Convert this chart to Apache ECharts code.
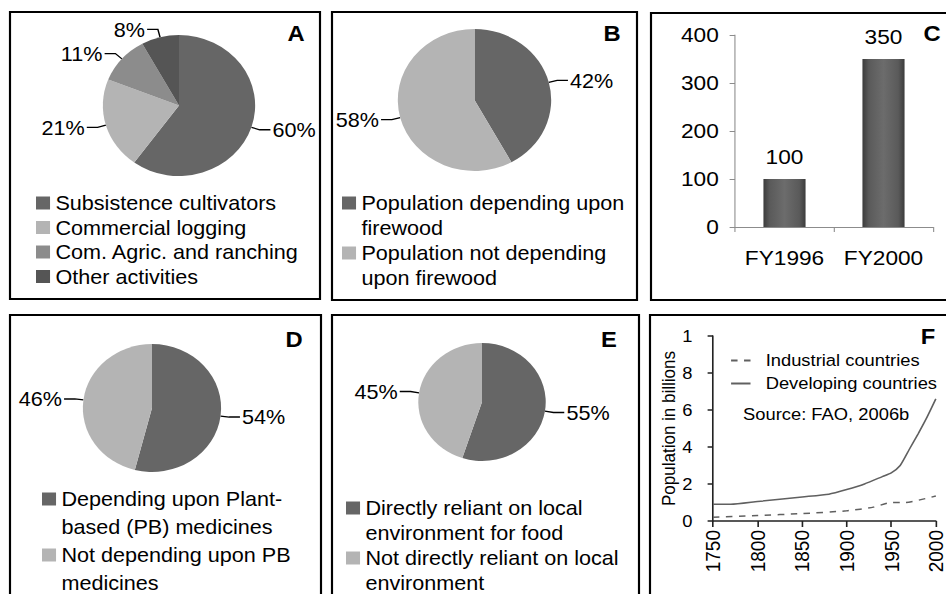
<!DOCTYPE html>
<html>
<head>
<meta charset="utf-8">
<script src="https://cdn.jsdelivr.net/npm/echarts@6.0.0/dist/echarts.min.js"></script>
<style>
  html, body { margin: 0; padding: 0; background: #fff; overflow: hidden; }
  /* the source figure is stretched a little horizontally, so the chart is drawn narrower and scaled */
  #main { width: 876px; height: 594px; transform: scaleX(1.08); transform-origin: 0 0; }
</style>
</head>
<body>
<div id="main"></div>
<script>
const SX = 1.08
const X = px => px / SX

// A - causes of deforestation
const namesA = ['Subsistence cultivators', 'Commercial logging', 'Com. Agric. and ranching', 'Other activities']
const valuesA = [60, 21, 11, 8]
// B - firewood
const namesB = ['Population depending upon firewood', 'Population not depending upon firewood']
const valuesB = [42, 58]
// C - bar
const categoriesC = ['FY1996', 'FY2000']
const valuesC = [100, 350]
// D - plant based medicines
const namesD = ['Depending upon Plant-based (PB) medicines', 'Not depending upon PB medicines']
const valuesD = [54, 46]
// E - food
const namesE = ['Directly reliant on local environment for food', 'Not directly reliant on local environment']
const valuesE = [55, 45]
// F - population in billions
const yearsIndustrial = [1750, 1800, 1850, 1900, 1930, 1950, 1965, 2000]
const industrial = [0.2, 0.3, 0.4, 0.55, 0.75, 1.0, 1.0, 1.35]
const yearsDeveloping = [1750, 1770, 1800, 1850, 1880, 1900, 1920, 1940, 1950, 1960, 1970, 1980, 1990, 2000]
const developing = [0.9, 0.9, 1.05, 1.3, 1.45, 1.7, 2.0, 2.4, 2.6, 3.0, 3.85, 4.7, 5.6, 6.6]
const seriesF = ['Industrial countries', 'Developing countries']

// legend line breaks as in the figure
const wrapped = {
  'Population depending upon firewood': 'Population depending upon\nfirewood',
  'Population not depending upon firewood': 'Population not depending\nupon firewood',
  'Depending upon Plant-based (PB) medicines': 'Depending upon Plant-\nbased (PB) medicines',
  'Not depending upon PB medicines': 'Not depending upon PB\nmedicines',
  'Directly reliant on local environment for food': 'Directly reliant on local\nenvironment for food',
  'Not directly reliant on local environment': 'Not directly reliant on local\nenvironment'
}

const FONT = "'Liberation Sans', Arial, sans-serif"
const dark = '#666666'
const light = '#b4b4b4'

const pieSeries = (names, values, colors, center, radius) => ({
  type: 'pie',
  center: center,
  radius: radius,
  startAngle: 90,
  clockwise: true,
  silent: true,
  avoidLabelOverlap: false,
  labelLayout: { hideOverlap: false },
  data: names.map((n, i) => ({ name: n, value: values[i], itemStyle: { color: colors[i] } })),
  itemStyle: { borderWidth: 0 },
  label: { show: true, position: 'outside', formatter: '{c}%', color: '#000', fontSize: 20, fontFamily: FONT, distanceToLabelLine: 2 },
  labelLine: { show: true, length: 8, length2: 10, lineStyle: { color: '#000', width: 1.3 } }
})

// two-line legend items: icon sits on the first line
const legendFor = (names, left, top, lineH) => {
  const s = 1.3
  const H = 10 + lineH / s
  return {
    data: names,
    orient: 'vertical',
    left: left,
    top: top,
    height: 200,
    padding: 0,
    itemGap: 0,
    itemWidth: 13,
    itemHeight: H * s,
    icon: 'path://M0,0h10v10h-10z M0,' + H.toFixed(2),
    selectedMode: false,
    itemStyle: { borderWidth: 0 },
    formatter: n => wrapped[n] || n,
    textStyle: { fontSize: 20, lineHeight: lineH, color: '#000', fontFamily: FONT }
  }
}

const box = (x1, y1, x2, y2) => ({
  type: 'rect',
  shape: { x: X(x1), y: y1, width: X(x2) - X(x1), height: y2 - y1 },
  style: { fill: 'none', stroke: '#000', lineWidth: 2 },
  silent: true
})
const letter = (t, x, y) => ({
  type: 'text',
  x: X(x),
  y: y,
  style: { text: t, fill: '#000', font: 'bold 22px ' + FONT, align: 'center', verticalAlign: 'middle' },
  silent: true
})

const chart = echarts.init(document.getElementById('main'), null, { renderer: 'svg' })

const barColor = new echarts.graphic.LinearGradient(0, 0, 1, 0, [
  { offset: 0, color: '#3c3c3c' },
  { offset: 0.15, color: '#5a5a5a' },
  { offset: 0.5, color: '#6c6c6c' },
  { offset: 0.85, color: '#5a5a5a' },
  { offset: 1, color: '#3c3c3c' }
])

const option = {
  animation: false,
  backgroundColor: '#fff',
  textStyle: { fontFamily: FONT, color: '#000' },
  graphic: [
    box(10, 12, 320, 299),
    box(332, 12, 637, 300),
    box(651, 13, 960, 300),
    box(10, 315, 321, 610),
    box(332, 315, 639, 610),
    box(650, 315, 960, 610),
    letter('A', 296, 33),
    letter('B', 612, 33),
    letter('C', 932, 33),
    letter('D', 294, 339),
    letter('E', 609, 339),
    letter('F', 928, 336),
    {
      type: 'text',
      x: X(743),
      y: 414,
      style: { text: 'Source: FAO, 2006b', fill: '#000', font: '17px ' + FONT, align: 'left', verticalAlign: 'middle' },
      silent: true
    }
  ],
  legend: [
    {
      data: namesA,
      orient: 'vertical',
      left: X(36),
      top: 193,
      padding: 0,
      itemGap: 4.5,
      itemWidth: 13,
      itemHeight: 13,
      icon: 'rect',
      selectedMode: false,
      itemStyle: { borderWidth: 0 },
      textStyle: { fontSize: 20, color: '#000', fontFamily: FONT }
    },
    legendFor(namesB, X(342), 190.5, 25),
    legendFor(namesD, X(42), 485, 28),
    legendFor(namesE, X(346), 495.5, 25),
    {
      data: seriesF,
      orient: 'vertical',
      left: X(730),
      top: 352,
      padding: 0,
      itemGap: 6,
      itemWidth: 18,
      itemHeight: 10,
      selectedMode: false,
      itemStyle: { opacity: 0 },
      textStyle: { fontSize: 17, color: '#000', fontFamily: FONT, padding: [0, 0, 0, 9] }
    }
  ],
  grid: [
    { left: X(735), right: 876 - X(933), top: 35, bottom: 594 - 227 },
    { left: X(713), right: 876 - X(936), top: 336, bottom: 594 - 521 }
  ],
  xAxis: [
    {
      gridIndex: 0,
      type: 'category',
      data: categoriesC,
      axisLine: { show: true, lineStyle: { color: '#8c8c8c', width: 1 } },
      axisTick: { show: true, alignWithLabel: false, length: 5, lineStyle: { color: '#8c8c8c' } },
      axisLabel: { color: '#000', fontSize: 21, margin: 20, interval: 0 },
      splitLine: { show: false }
    },
    {
      gridIndex: 1,
      type: 'value',
      min: 1750,
      max: 2000,
      interval: 50,
      axisLine: { show: true, onZero: false, lineStyle: { color: '#222', width: 1.5 } },
      axisTick: { show: true, length: 6, lineStyle: { color: '#222', width: 1.5 } },
      axisLabel: { color: '#000', fontSize: 19, rotate: 90, margin: 9, formatter: v => String(v) },
      splitLine: { show: false }
    }
  ],
  yAxis: [
    {
      gridIndex: 0,
      type: 'value',
      min: 0,
      max: 400,
      interval: 100,
      axisLine: { show: true, lineStyle: { color: '#8c8c8c', width: 1 } },
      axisTick: { show: true, length: 5, lineStyle: { color: '#8c8c8c' } },
      axisLabel: { color: '#000', fontSize: 21, margin: 15 },
      splitLine: { show: false }
    },
    {
      gridIndex: 1,
      type: 'value',
      min: 0,
      max: 10,
      interval: 2,
      name: 'Population in billions',
      nameLocation: 'middle',
      nameGap: 29,
      nameTextStyle: { color: '#000', fontSize: 17 },
      axisLine: { show: true, lineStyle: { color: '#222', width: 1.5 } },
      axisTick: { show: true, length: 5, lineStyle: { color: '#222', width: 1.5 } },
      // the figure clips "10" to "1"
      axisLabel: { color: '#000', fontSize: 17, margin: 19, width: 11, overflow: 'truncate', ellipsis: '' },
      splitLine: { show: false }
    }
  ],
  series: [
    pieSeries(namesA, valuesA, [dark, light, '#8c8c8c', '#555555'], [X(179), 105.5], 70.5),
    pieSeries(namesB, valuesB, [dark, light], [X(474.5), 100], 71),
    pieSeries(namesD, valuesD, [dark, light], [X(152), 408], 64),
    pieSeries(namesE, valuesE, [dark, light], [X(482), 402], 59),
    {
      type: 'bar',
      xAxisIndex: 0,
      yAxisIndex: 0,
      data: valuesC,
      barWidth: 39,
      itemStyle: { color: barColor },
      label: { show: true, position: 'top', distance: 12, fontSize: 21, color: '#000' },
      silent: true
    },
    {
      name: seriesF[0],
      type: 'line',
      xAxisIndex: 1,
      yAxisIndex: 1,
      data: yearsIndustrial.map((y, i) => [y, industrial[i]]),
      symbol: 'none',
      smooth: 0.2,
      itemStyle: { color: '#606060' },
      lineStyle: { color: '#606060', width: 1.5, type: [6, 6] },
      silent: true
    },
    {
      name: seriesF[1],
      type: 'line',
      xAxisIndex: 1,
      yAxisIndex: 1,
      data: yearsDeveloping.map((y, i) => [y, developing[i]]),
      symbol: 'none',
      smooth: 0.2,
      itemStyle: { color: '#606060' },
      lineStyle: { color: '#606060', width: 1.5 },
      silent: true
    }
  ]
}

chart.setOption(option)
</script>
</body>
</html>
